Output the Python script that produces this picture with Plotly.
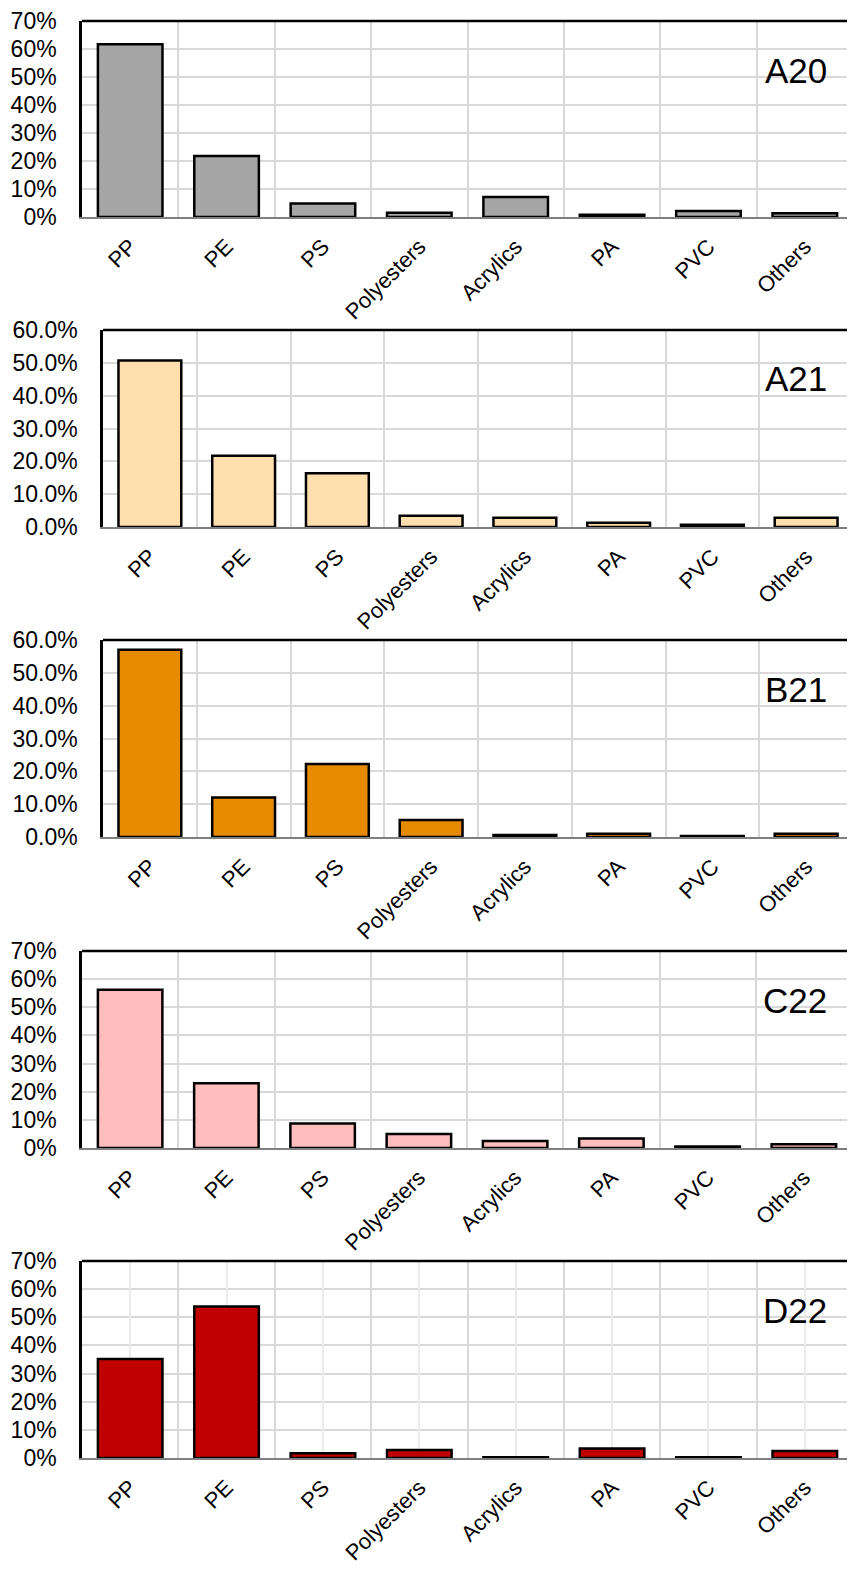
import plotly.graph_objects as go

categories = ["PP", "PE", "PS", "Polyesters", "Acrylics", "PA", "PVC", "Others"]

samples = ["A20", "A21", "B21", "C22", "D22"]
a20 = [61.7, 21.8, 4.8, 1.5, 7.1, 0.8, 2.1, 1.3]
a21 = [50.7, 21.7, 16.4, 3.4, 2.8, 1.3, 0.7, 2.8]
b21 = [57.0, 12.0, 22.2, 5.2, 0.6, 1.0, 0.3, 1.0]
c22 = [56.2, 23.0, 8.7, 5.0, 2.5, 3.4, 0.5, 1.3]
d22 = [35.2, 53.8, 1.7, 2.8, 0.3, 3.4, 0.3, 2.5]
series = [a20, a21, b21, c22, d22]

colors = ["#A6A6A6", "#FFDFAE", "#E68A00", "#FFBDBD", "#C00000"]
y_max = [70, 60, 60, 70, 70]
y_fmt = [".0f", ".1f", ".1f", ".0f", ".0f"]

# page body has an 8px margin, so the figure is drawn 8px in from the window edge
OFF = 8
W, H = 855 - OFF, 1573 - 2 * OFF - 1
# window-pixel boxes (left, right, top, bottom) of each plot area
boxes = [
    (82, 853, 21, 217),
    (103, 853, 330, 527),
    (103, 853, 640, 837),
    (82, 852, 951, 1148),
    (82, 853, 1261, 1458),
]

FONT = "Liberation Sans, Arial, sans-serif"
fig = go.Figure()
layout = dict(
    width=W, height=H, margin=dict(l=0, r=0, t=0, b=0, autoexpand=False),
    paper_bgcolor="white", plot_bgcolor="white",
    showlegend=False, bargap=0.33,
    font=dict(family=FONT, color="black"),
)
shapes = []
annotations = []


def px_x(v):
    return (v - OFF) / W


def px_y(v):
    return 1 - (v - OFF) / H


for i, (name, vals) in enumerate(zip(samples, series)):
    n = i + 1
    xa = f"x{n}" if n > 1 else "x"
    ya = f"y{n}" if n > 1 else "y"
    fig.add_trace(go.Bar(
        x=categories, y=vals, xaxis=xa, yaxis=ya,
        marker=dict(color=colors[i], line=dict(color="black", width=2.5)),
        hoverinfo="x+y",
    ))
    l, r, t, b = boxes[i]
    xkey = f"xaxis{n}" if n > 1 else "xaxis"
    ykey = f"yaxis{n}" if n > 1 else "yaxis"
    layout[xkey] = dict(
        domain=[px_x(l), min(1, px_x(r))], anchor=ya, type="category",
        categoryorder="array", categoryarray=categories,
        range=[-0.5, 7.5], tickson="boundaries", automargin=False,
        showgrid=True, gridcolor="#D9D9D9", gridwidth=1.5,
        showline=True, linecolor="#7F7F7F", linewidth=2,
        ticks="", tickangle=-45, ticklabelstandoff=6,
        ticklabeloverflow="allow",
        tickfont=dict(family=FONT, size=22, color="black"),
        fixedrange=True,
    )
    layout[ykey] = dict(
        domain=[px_y(b), px_y(t)], anchor=xa, automargin=False,
        range=[0, y_max[i]], dtick=10, tickformat=y_fmt[i], ticksuffix="%",
        showgrid=True, gridcolor="#D9D9D9", gridwidth=1.5,
        zeroline=False,
        showline=True, linecolor="black", linewidth=2.5, mirror=True,
        ticks="", ticklabelstandoff=18, ticklabeloverflow="allow",
        tickfont=dict(family=FONT, size=23, color="black"),
        fixedrange=True,
    )
    shapes.append(dict(
        type="line", xref=f"{xa} domain", yref=f"{ya} domain",
        x0=0, x1=1, y0=1, y1=1, line=dict(color="black", width=2.5),
    ))
    annotations.append(dict(
        text=name, xref="paper", yref="paper",
        x=px_x(829), y=px_y(t + 49), xanchor="right", yanchor="middle",
        showarrow=False, font=dict(family=FONT, size=35, color="black"),
    ))

# D22 also shows grid lines through category centres: overlay axis
fig.add_trace(go.Scatter(
    x=categories, y=[None] * len(categories), xaxis="x6", yaxis="y5",
    mode="markers", showlegend=False, hoverinfo="skip",
))
l, r, t, b = boxes[4]
layout["xaxis6"] = dict(
    domain=[px_x(l), min(1, px_x(r))], anchor="y5", overlaying="x5", type="category",
    categoryorder="array", categoryarray=categories, range=[-0.5, 7.5],
    showgrid=True, gridcolor="#EBEBEB", gridwidth=1.5, automargin=False,
    showticklabels=False, ticks="", showline=False, fixedrange=True,
)

layout["shapes"] = shapes
layout["annotations"] = annotations
fig.update_layout(**layout)
fig.write_html("out.html")
